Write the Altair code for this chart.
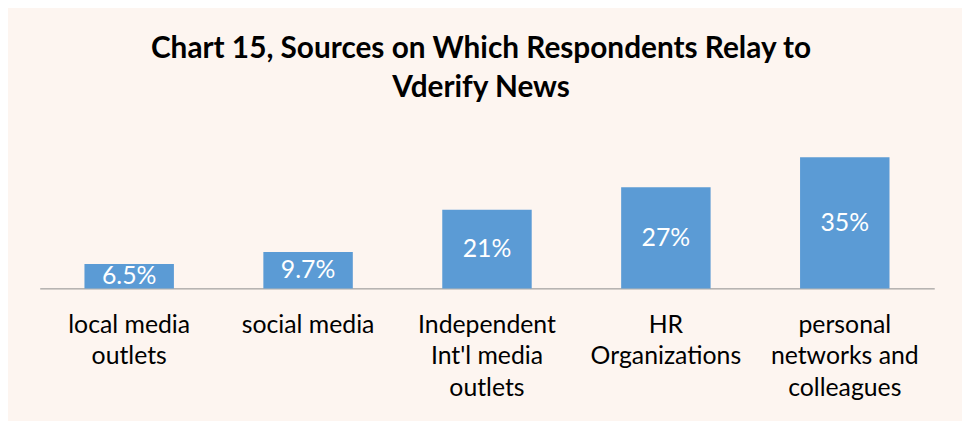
import altair as alt
import pandas as pd

categories = [
    "local media|outlets",
    "social media",
    "Independent|Int'l media|outlets",
    "HR|Organizations",
    "personal|networks and|colleagues",
]
values = [6.5, 9.7, 21, 27, 35]
value_labels = ["6.5%", "9.7%", "21%", "27%", "35%"]

title_lines = ["Chart 15, Sources on Which  Respondents Relay to", "Vderify News"]

df = pd.DataFrame({"cat": categories, "value": values, "label": value_labels})

FONT = "Lato"

x_enc = alt.X(
    "cat:N",
    sort=categories,
    scale=alt.Scale(paddingInner=0.5, paddingOuter=0.25),
    axis=alt.Axis(
        title=None,
        labelAngle=0,
        labelExpr="split(datum.label, '|')",
        labelFont=FONT,
        labelFontSize=25,
        labelColor="#000000",
        labelLineHeight=32,
        labelPadding=24,
        ticks=False,
        domainColor="#8c8c8c",
        domainWidth=1,
        grid=False,
    ),
)

bars = alt.Chart(df).mark_bar(color="#5B9BD5").encode(
    x=x_enc,
    y=alt.Y("value:Q", scale=alt.Scale(domain=[0, 40]), axis=None),
)

text = alt.Chart(df).transform_calculate(
    half="datum.value / 2"
).mark_text(
    font=FONT, fontSize=25, color="#ffffff", baseline="middle", align="center"
).encode(
    x=alt.X("cat:N", sort=categories),
    y=alt.Y("half:Q", scale=alt.Scale(domain=[0, 40]), axis=None),
    text="label:N",
)

chart = alt.layer(bars, text).properties(
    width=902,
    height=151,
    title=alt.TitleParams(
        text=title_lines,
        font=FONT,
        fontSize=30,
        fontWeight="bold",
        color="#000000",
        anchor="middle",
        lineHeight=39,
        offset=36,
        dx=-6,
    ),
    autosize=alt.AutoSizeParams(type="none"),
    padding={"left": 32, "top": 130, "right": 28, "bottom": 132},
    background="#FDF5F0",
).configure_view(stroke=None)

chart.save("out.html", embed_options={"renderer": "svg", "actions": False})
